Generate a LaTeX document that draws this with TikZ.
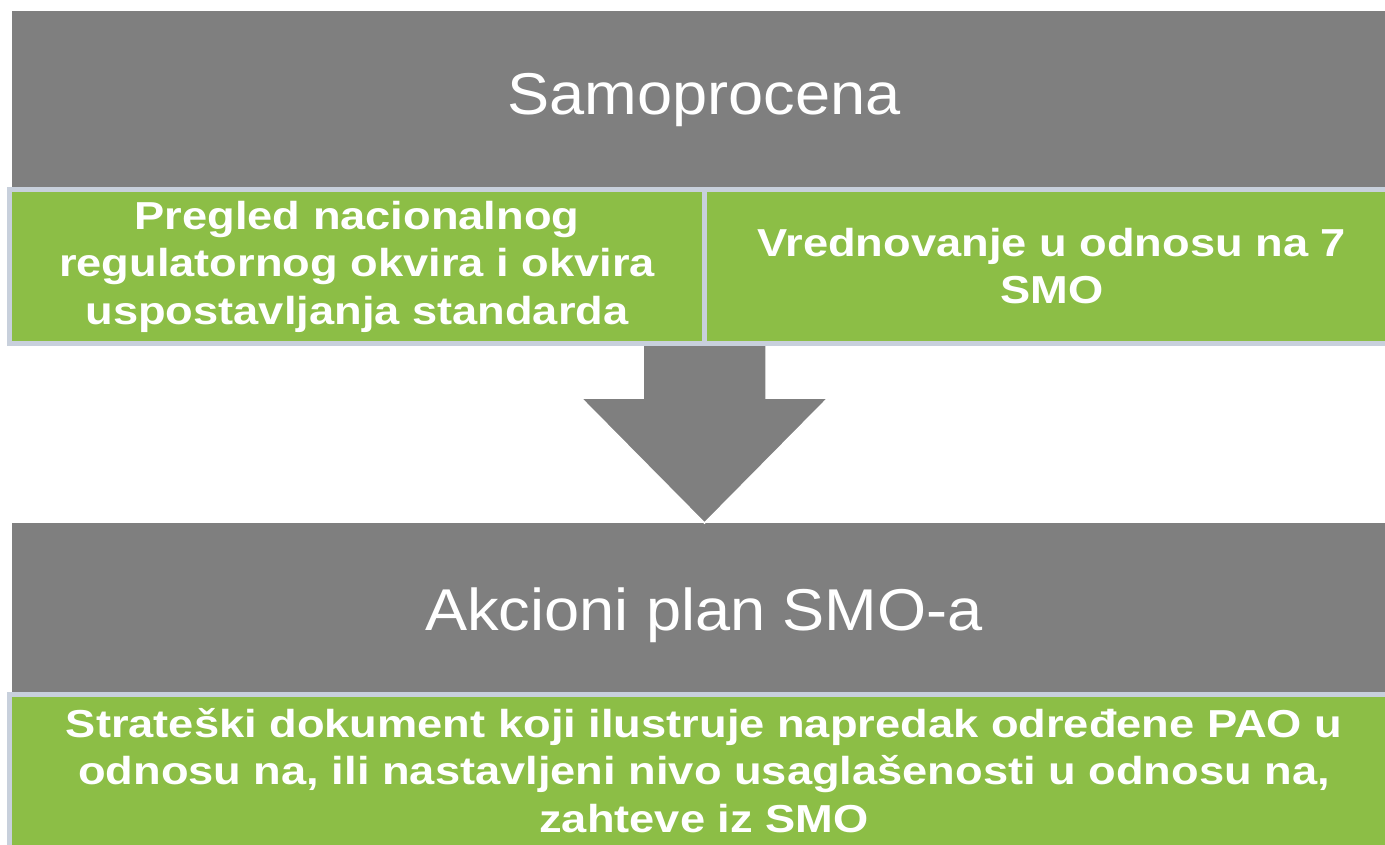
\documentclass[tikz,border=0pt]{standalone}
\usepackage{fontspec}
\setmainfont{Liberation Sans}
\newfontfamily\titlefont{Liberation Sans}[FakeStretch=1.07]
\newfontfamily\bodyfont{Liberation Sans}[FakeStretch=1.16]
\definecolor{boxgray}{RGB}{127,127,127}
\definecolor{boxgreen}{RGB}{140,190,70}
\definecolor{edge}{RGB}{200,208,220}
\tikzset{
  graybox/.style={fill=boxgray, draw=none, inner sep=0pt, outer sep=0pt},
  greenbox/.style={fill=boxgreen, draw=edge, line width=5pt, inner sep=0pt, outer sep=0pt},
  titletext/.style={text=white, font=\titlefont\fontsize{59}{66}\selectfont, anchor=base, inner sep=0pt},
  bodytext/.style={text=white, font=\bodyfont\bfseries\fontsize{39}{47.5}\selectfont, align=center, anchor=base, inner sep=0pt},
  blockarrow/.style={fill=boxgray, draw=white, line width=1.5pt, line join=miter},
}
\begin{document}
\begin{tikzpicture}[x=1pt,y=-1pt]
\useasboundingbox (0,0) rectangle (1385,845);
\clip (0,0) rectangle (1385,845);
% gray header boxes
\node[graybox, minimum width=1384pt, minimum height=176pt] (top) at (704,99) {};
\node[graybox, minimum width=1384pt, minimum height=169pt] (bottom) at (704,607.5) {};
% block arrow
\filldraw[blockarrow] (643,330) -- (766,330) -- (766,398) -- (828,398) -- (704.5,523)
  -- (581,398) -- (643,398) -- cycle;
% green boxes
\node[greenbox, minimum width=695pt, minimum height=153.5pt] (left) at (357,266.25) {};
\node[greenbox, minimum width=695.5pt, minimum height=153.5pt] (right) at (1052.25,266.25) {};
\node[greenbox, minimum width=1390.5pt, minimum height=205.5pt] (lower) at (704.75,797.25) {};
% texts
\node[titletext] (t1) at (704,115) {Samoprocena};
\node[titletext] (t2) at (704,630) {Akcioni plan SMO-a};
\node[bodytext] (b1) at (357,324) {Pregled nacionalnog\\regulatornog okvira i okvira\\uspostavljanja standarda};
\node[bodytext] (b2) at (1052,304) {Vrednovanje u odnosu na 7\\SMO};
\node[bodytext] (b3) at (704,832) {Strateški dokument koji ilustruje napredak određene PAO u\\odnosu na, ili nastavljeni nivo usaglašenosti u odnosu na,\\zahteve iz SMO};
\end{tikzpicture}
\end{document}
